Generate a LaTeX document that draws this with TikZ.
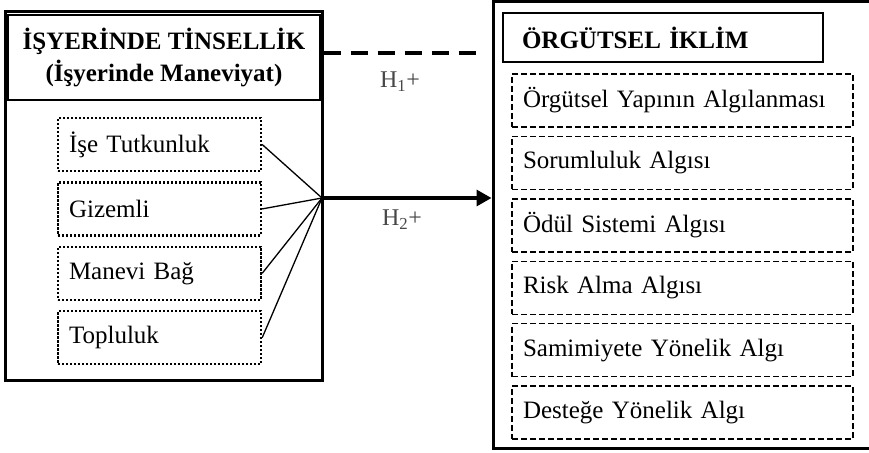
\documentclass[tikz,border=0pt]{standalone}
\usepackage{fontspec}
\setmainfont{Liberation Serif}
\usetikzlibrary{positioning,arrows.meta}

\begin{document}
\begin{tikzpicture}[
		x=1pt, y=-1pt
		,font=\fontsize{25}{32}\selectfont
		,outer/.style={draw, line width=3pt, minimum width=#1}
		,head/.style={draw, font=\fontsize{25}{32}\selectfont\bfseries}
		,lsub/.style={draw, dash pattern=on 2.4pt off 1.6pt, line width=2.4pt, minimum height=53pt, text width=181pt, inner xsep=11pt, align=left}
		,rsub/.style={draw, dash pattern=on 6pt off 3pt, line width=1.4pt, minimum height=53pt, text width=319pt, inner xsep=11pt, align=left}
		,hyp/.style={text=black!72, font=\fontsize{24}{26}\selectfont}
		,link/.style={line width=1.3pt}
	]
		\useasboundingbox (0,0) rectangle (869,452);

		% left block
		\node[outer=317pt, minimum height=368pt] (lbox) at (163.5,196) {};
		\node[head, line width=1.5pt, minimum width=312pt, minimum height=85pt, align=center] (lhead) at (164,57.5)
			{İŞYERİNDE TİNSELLİK\\(İşyerinde Maneviyat)};
		\node[lsub] (a1) at (159.5,144.5) {İşe Tutkunluk};
		\node[lsub, below=9pt of a1] (a2) {Gizemli};
		\node[lsub, below=9pt of a2] (a3) {Manevi Bağ};
		\node[lsub, below=9pt of a3] (a4) {Topluluk};

		% right block
		\node[outer=387pt, minimum height=446pt] (rbox) at (686.5,225) {};
		\node[head, line width=2.5pt, minimum height=49pt, text width=282pt, inner xsep=19pt, align=left] (rhead) at (663,37.5)
			{ÖRGÜTSEL İKLİM};
		\node[rsub] (b1) at (682.5,100.5) {Örgütsel Yapının Algılanması};
		\node[rsub, below=8pt of b1] (b2) {Sorumluluk Algısı};
		\node[rsub, below=8pt of b2] (b3) {Ödül Sistemi Algısı};
		\node[rsub, below=8pt of b3] (b4) {Risk Alma Algısı};
		\node[rsub, below=8pt of b4] (b5) {Samimiyete Yönelik Algı};
		\node[rsub, below=8pt of b5] (b6) {Desteğe Yönelik Algı};

		% hypotheses
		\coordinate (hub) at (322,198);
		\coordinate (dashend) at (480,53);
		\foreach \n in {a1,a2,a3,a4}
			\draw[link] (\n.east) -- (hub);
		\draw[line width=3.2pt, -{Triangle[length=15pt, width=16pt]}] (hub) -- (hub -| rbox.west);
		\draw[line width=3.2pt, dash pattern=on 17pt off 10pt] (lbox.east |- dashend) -- (dashend);
		\node[hyp] (h1) at (400,82) {H\textsubscript{1}+};
		\node[hyp] (h2) at (402,220) {H\textsubscript{2}+};
	\end{tikzpicture}
\end{document}
